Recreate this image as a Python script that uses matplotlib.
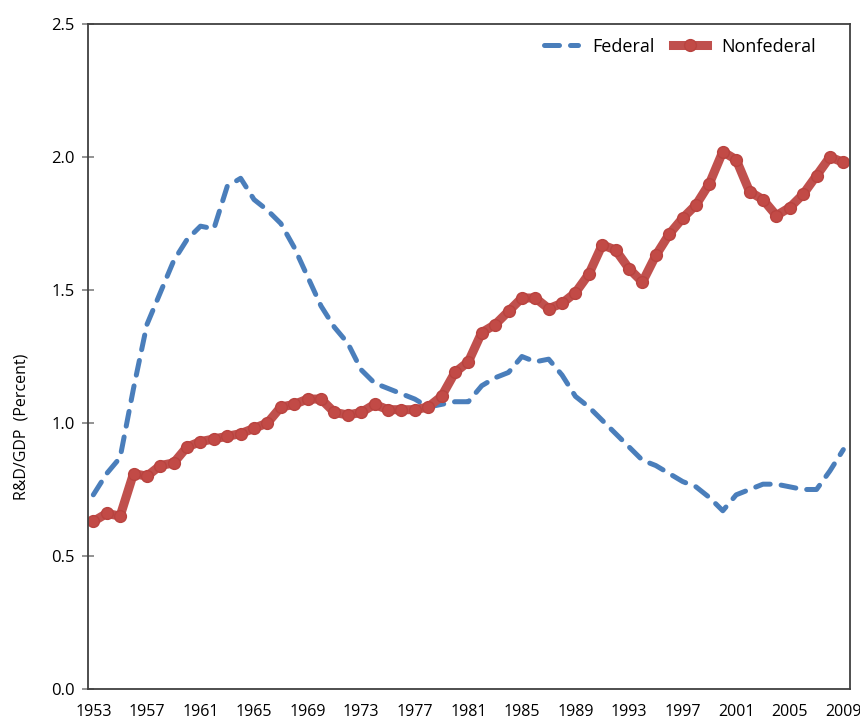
import numpy as np
import matplotlib.pyplot as plt

years = np.arange(1953, 2010)

federal = [0.73, 0.81, 0.87, 1.13, 1.37, 1.49, 1.61, 1.69, 1.74, 1.73,
           1.89, 1.92, 1.84, 1.80, 1.75, 1.66, 1.55, 1.44, 1.36, 1.30,
           1.20, 1.15, 1.13, 1.11, 1.09, 1.06, 1.07, 1.08, 1.08, 1.14,
           1.17, 1.19, 1.25, 1.23, 1.24, 1.18, 1.10, 1.06, 1.01, 0.96,
           0.91, 0.86, 0.84, 0.81, 0.78, 0.76, 0.72, 0.67, 0.73, 0.75,
           0.77, 0.77, 0.76, 0.75, 0.75, 0.82, 0.90]

nonfederal = [0.63, 0.66, 0.65, 0.81, 0.80, 0.84, 0.85, 0.91, 0.93, 0.94,
              0.95, 0.96, 0.98, 1.00, 1.06, 1.07, 1.09, 1.09, 1.04, 1.03,
              1.04, 1.07, 1.05, 1.05, 1.05, 1.06, 1.10, 1.19, 1.23, 1.34,
              1.37, 1.42, 1.47, 1.47, 1.43, 1.45, 1.49, 1.56, 1.67, 1.65,
              1.58, 1.53, 1.63, 1.71, 1.77, 1.82, 1.90, 2.02, 1.99, 1.87,
              1.84, 1.78, 1.81, 1.86, 1.93, 2.00, 1.98]

xticks = np.arange(1953, 2010, 4)
yticks = [0.0, 0.5, 1.0, 1.5, 2.0, 2.5]

plt.rcParams['font.family'] = ['Open Sans', 'DejaVu Sans']

fig = plt.figure(figsize=(8.6, 7.21), dpi=100)
ax = fig.add_axes([0.1023, 0.0444, 0.8861, 0.9223])

ax.plot(years, federal, color='#4A7EBB', lw=3.6, ls=(0, (3, 2.2)),
        dash_capstyle='round', solid_capstyle='round', label='Federal')
ax.plot(years, nonfederal, color='#C0504D', lw=6.5, marker='o', ms=8.5,
        mfc='#C24A46', mec='#B9433F', solid_joinstyle='round', label='Nonfederal')

ax.set_xlim(1952.6, 2009.5)
ax.set_ylim(0, 2.5)
ax.set_xticks(xticks)
ax.set_yticks(yticks)
ax.set_yticklabels(['%.1f' % v for v in yticks])
ax.tick_params(axis='x', length=0, pad=11, labelsize=11.5)
ax.tick_params(axis='y', length=9, width=1.2, color='#808080', direction='inout',
               pad=5, labelsize=12)

for s in ax.spines.values():
    s.set_color('#404040')
    s.set_linewidth(1.3)

ax.set_ylabel('R&D/GDP  (Percent)', fontsize=11.5)
ax.yaxis.set_label_coords(-0.077, 0.395)

ax.legend(loc='upper right', ncol=2, frameon=False, fontsize=13,
          handlelength=1.9, handletextpad=0.8, columnspacing=1.0,
          bbox_to_anchor=(0.977, 1.004))

plt.savefig('out.png')
